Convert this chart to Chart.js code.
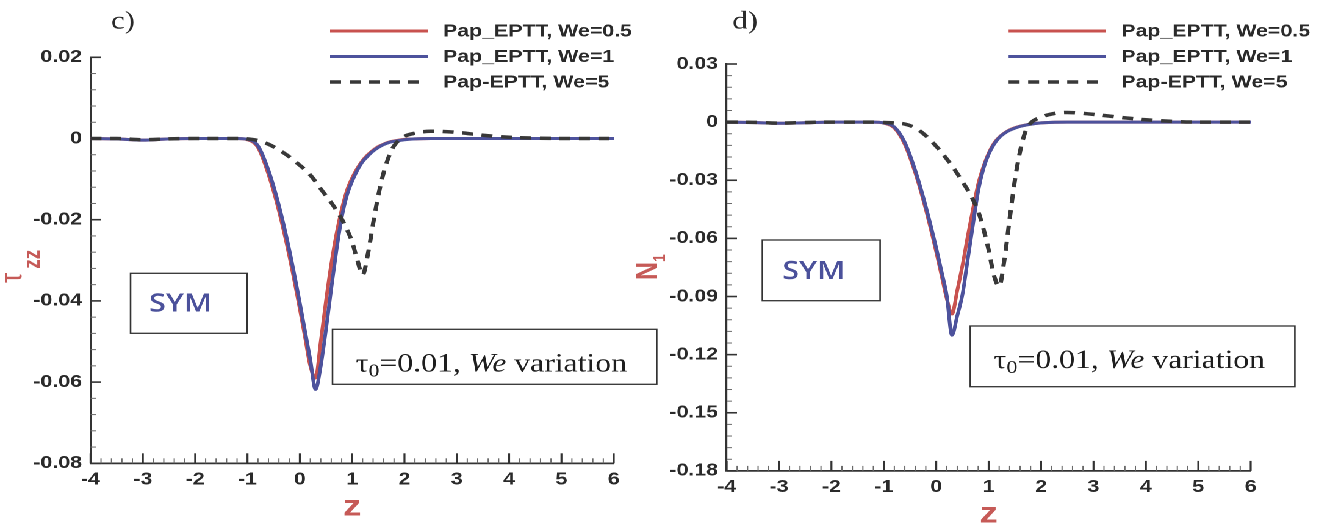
<!DOCTYPE html>
<html>
<head>
<meta charset="utf-8">
<script src="https://cdn.jsdelivr.net/npm/chart.js@4.4.1/dist/chart.umd.min.js"></script>
<style>
  html, body { margin: 0; padding: 0; background: #fff; overflow: hidden; }
  /* both panels are laid out narrow and stretched sideways */
  #wrap { position: absolute; left: 0; top: 0; width: 1081px; height: 529px; transform: scaleX(1.2202); transform-origin: 0 0; }
  #wrap canvas { position: absolute; top: 0; }
</style>
</head>
<body>
<div id="wrap">
  <canvas id="chart_c" width="541" height="529" style="left:0px"></canvas>
  <canvas id="chart_d" width="573" height="529" style="left:508px"></canvas>
</div>
<script>
// axial position
const zGrid = [-4, -3.5, -3, -2.5, -2, -1.5, -1.2, -1.0, -0.8, -0.6, -0.4, -0.2, 0, 0.1, 0.2, 0.3, 0.4, 0.5, 0.6, 0.7,
               0.8, 0.9, 1.0, 1.1, 1.2, 1.3, 1.4, 1.5, 1.6, 1.7, 1.8, 2.0, 2.2, 2.5, 3.0, 3.5, 4.0, 4.5, 5, 6];

// c) tau_zz
const tzzWe05 = [0, -0.0001, -0.0004, -0.0001, 0, 0, 0, -0.0003, -0.0022, -0.0088, -0.0178, -0.0290, -0.0420, -0.0490, -0.0560, -0.0590, -0.0500, -0.0400, -0.0310, -0.0235,
                 -0.0175, -0.0128, -0.0097, -0.0073, -0.0054, -0.0040, -0.0029, -0.0020, -0.0014, -0.0009, -0.0006, -0.0002, -0.0001, 0, 0, 0, 0, 0, 0, 0];
const tzzWe1 = [0, -0.0001, -0.0004, -0.0001, 0, 0, 0, -0.0002, -0.0018, -0.0078, -0.0165, -0.0275, -0.0405, -0.0475, -0.0545, -0.0618, -0.0560, -0.0470, -0.0370, -0.0275,
                -0.0195, -0.0140, -0.0105, -0.0078, -0.0057, -0.0043, -0.0031, -0.0022, -0.0015, -0.0010, -0.0007, -0.0003, -0.0001, 0, 0, 0, 0, 0, 0, 0];
const tzzWe5 = [0, 0, -0.0003, -0.0001, 0, 0, 0, -0.0001, -0.0005, -0.0014, -0.0028, -0.0045, -0.0066, -0.0077, -0.0090, -0.0106, -0.0124, -0.0141, -0.0158, -0.0177,
                -0.0198, -0.0224, -0.0255, -0.0300, -0.0336, -0.0285, -0.0210, -0.0140, -0.0085, -0.0045, -0.0018, 0.0005, 0.0013, 0.0018, 0.0015, 0.0008, 0.0003, 0.0001, 0, 0];

// d) N1
const n1We05 = [0, -0.0002, -0.0006, -0.0003, 0, 0, 0, -0.0005, -0.0030, -0.0115, -0.0262, -0.0450, -0.0670, -0.0790, -0.0910, -0.0990, -0.0870, -0.0740, -0.0590, -0.0450,
                -0.0320, -0.0230, -0.0160, -0.0110, -0.0078, -0.0056, -0.0040, -0.0029, -0.0021, -0.0015, -0.0010, -0.0004, -0.0001, 0, 0, 0, 0, 0, 0, 0];
const n1We1 = [0, -0.0002, -0.0006, -0.0003, 0, 0, 0, -0.0004, -0.0025, -0.0105, -0.0250, -0.0435, -0.0650, -0.0770, -0.0895, -0.1100, -0.1000, -0.0890, -0.0710, -0.0530,
               -0.0355, -0.0240, -0.0166, -0.0115, -0.0080, -0.0058, -0.0042, -0.0031, -0.0022, -0.0016, -0.0011, -0.0004, -0.0001, 0, 0, 0, 0, 0, 0, 0];
const n1We5 = [0, -0.0001, -0.0005, -0.0002, 0, 0, 0, -0.0002, -0.0004, -0.0010, -0.0030, -0.0070, -0.0125, -0.0155, -0.0190, -0.0225, -0.0265, -0.0308, -0.0350, -0.0400,
               -0.0460, -0.0550, -0.0660, -0.0790, -0.0847, -0.0710, -0.0500, -0.0300, -0.0150, -0.0050, -0.0005, 0.0025, 0.0042, 0.0050, 0.0040, 0.0025, 0.0012, 0.0004, 0, 0];

const seriesNames = ['Pap_EPTT, We=0.5', 'Pap_EPTT, We=1', 'Pap-EPTT, We=5'];

const zTicks = [-4, -3, -2, -1, 0, 1, 2, 3, 4, 5, 6];
const zLabels = ['-4', '-3', '-2', '-1', '0', '1', '2', '3', '4', '5', '6'];
const tzzTicks = [-0.08, -0.06, -0.04, -0.02, 0, 0.02];
const tzzLabels = ['-0.08', '-0.06', '-0.04', '-0.02', '0', '0.02'];
const n1Ticks = [-0.18, -0.15, -0.12, -0.09, -0.06, -0.03, 0, 0.03];
const n1Labels = ['-0.18', '-0.15', '-0.12', '-0.09', '-0.06', '-0.03', '0', '0.03'];

const RED = '#c8524f';
const BLUE = '#4d529c';
const DASH = '#383838';
const AXIS = '#333333';
const LABEL_RED = '#c65a57';
const INK = '#2a2a2a';

function seriesSets(v05, v1, v5) {
    return [
        { label: seriesNames[0], data: zGrid.map((z, i) => ({ x: z, y: v05[i] })), borderColor: RED, borderWidth: 3, order: 3 },
        { label: seriesNames[1], data: zGrid.map((z, i) => ({ x: z, y: v1[i] })), borderColor: BLUE, borderWidth: 3, order: 2 },
        { label: seriesNames[2], data: zGrid.map((z, i) => ({ x: z, y: v5[i] })), borderColor: DASH, borderWidth: 3.5, borderDash: [9, 7], order: 1 }
    ].map(d => Object.assign(d, { pointRadius: 0, fill: false, cubicInterpolationMode: 'monotone' }));
}

function minorValues(majors, parts) {
    const out = [];
    for (let i = 0; i < majors.length - 1; i++) {
        const step = (majors[i + 1] - majors[i]) / parts;
        for (let k = 1; k < parts; k++) out.push(majors[i] + k * step);
    }
    return out;
}

function seg(ctx, x1, y1, x2, y2) {
    ctx.beginPath();
    ctx.moveTo(x1, y1);
    ctx.lineTo(x2, y2);
    ctx.stroke();
}

// text made of pieces (subscripts, italics), drawn left to right from x
function pieces(ctx, x, y, parts) {
    let cx = x;
    parts.forEach(p => {
        ctx.font = p.font;
        cx += p.dx || 0;
        ctx.fillText(p.text, cx, y + (p.dy || 0));
        cx += ctx.measureText(p.text).width;
    });
}

function piecesWidth(ctx, parts) {
    let w = 0;
    parts.forEach(p => { ctx.font = p.font; w += ctx.measureText(p.text).width + (p.dx || 0); });
    return w;
}

// inward ticks, boxed notes, legend and labels
const decor = {
    id: 'decor',
    afterDraw(chart, args, o) {
        const ctx = chart.ctx;
        const a = chart.chartArea;
        const xs = chart.scales.x, ys = chart.scales.y;
        ctx.save();
        ctx.strokeStyle = AXIS;

        const xMaj = xs.ticks.map(t => t.value);
        const yMaj = ys.ticks.map(t => t.value);
        ctx.lineWidth = 1.6;
        xMaj.forEach(v => { const p = xs.getPixelForValue(v); seg(ctx, p, a.bottom, p, a.bottom - 10); });
        yMaj.forEach(v => { const p = ys.getPixelForValue(v); seg(ctx, a.left, p, a.left + 8.5, p); });
        ctx.lineWidth = 1;
        ctx.strokeStyle = '#6a6a6a';
        minorValues(xMaj, 5).forEach(v => { const p = xs.getPixelForValue(v); seg(ctx, p, a.bottom, p, a.bottom - 5); });
        minorValues(yMaj, 5).forEach(v => { const p = ys.getPixelForValue(v); seg(ctx, a.left, p, a.left + 4.5, p); });

        // panel letter
        ctx.fillStyle = INK;
        ctx.font = '25px "Liberation Serif"';
        ctx.textAlign = 'center';
        ctx.textBaseline = 'middle';
        ctx.fillText(o.letter.text, o.letter.x, o.letter.y);

        // legend
        const lg = o.legend;
        chart.data.datasets.forEach((ds, i) => {
            const y = lg.rows[i];
            ctx.strokeStyle = ds.borderColor;
            ctx.lineWidth = ds.borderWidth;
            ctx.setLineDash(ds.borderDash || []);
            seg(ctx, lg.x0, y, lg.x1, y);
            ctx.setLineDash([]);
            ctx.fillStyle = INK;
            ctx.font = 'bold 17.5px "Liberation Sans"';
            ctx.textAlign = 'left';
            ctx.fillText(ds.label, lg.tx, y + 0.5);
        });

        // boxes
        ctx.strokeStyle = AXIS;
        ctx.lineWidth = 1.3;
        const sb = o.symBox;
        ctx.strokeRect(sb.x, sb.y, sb.w, sb.h);
        ctx.fillStyle = '#4b519b';
        ctx.font = '600 25px "Open Sans"';
        ctx.textAlign = 'center';
        ctx.fillText('SYM', sb.tx, sb.ty);

        const tb = o.tauBox;
        ctx.strokeRect(tb.x, tb.y, tb.w, tb.h);
        const tauParts = [
            { text: 'τ', font: '26px "Liberation Serif"' },
            { text: '0', font: '18px "Liberation Serif"', dy: 5 },
            { text: '=0.01, ', font: '26px "Liberation Serif"' },
            { text: 'We', font: 'italic 26px "Liberation Serif"' },
            { text: ' variation', font: '26px "Liberation Serif"' }
        ];
        ctx.fillStyle = '#1e1e1e';
        ctx.textAlign = 'left';
        ctx.textBaseline = 'alphabetic';
        pieces(ctx, tb.tx - piecesWidth(ctx, tauParts) / 2, tb.ty, tauParts);

        // y axis title, rotated
        const yt = o.yTitle;
        ctx.save();
        ctx.translate(yt.x, yt.y);
        ctx.rotate(-Math.PI / 2);
        ctx.fillStyle = LABEL_RED;
        pieces(ctx, 0, 0, yt.parts);
        ctx.restore();

        ctx.restore();
    }
};

function buildPanel(id, p) {
    return new Chart(document.getElementById(id), {
        type: 'line',
        data: { datasets: seriesSets(p.v05, p.v1, p.v5) },
        plugins: [decor],
        options: {
            responsive: false,
            animation: false,
            devicePixelRatio: 2,
            layout: { padding: { top: p.top, right: p.right, left: 0, bottom: 0 } },
            plugins: {
                legend: { display: false },
                tooltip: { enabled: false },
                decor: p.decor
            },
            scales: {
                x: {
                    type: 'linear',
                    min: -4,
                    max: 6,
                    afterBuildTicks: s => { s.ticks = zTicks.map(v => ({ value: v })); },
                    afterFit: s => { s.height = p.xHeight; },
                    ticks: {
                        callback: (v, i) => zLabels[i],
                        padding: 6,
                        maxRotation: 0,
                        autoSkip: false,
                        color: INK,
                        font: { family: 'Liberation Sans', size: 17.5, weight: 'bold' }
                    },
                    grid: { display: false, drawTicks: false },
                    border: { display: true, color: AXIS, width: 1.8 },
                    title: {
                        display: true,
                        text: 'z',
                        color: LABEL_RED,
                        font: { family: 'Liberation Sans', size: 30, weight: 'bold', lineHeight: 1 },
                        padding: { top: 0, bottom: p.zPad }
                    }
                },
                y: {
                    type: 'linear',
                    min: p.yTicks[0],
                    max: p.yTicks[p.yTicks.length - 1],
                    afterBuildTicks: s => { s.ticks = p.yTicks.map(v => ({ value: v })); },
                    afterFit: s => { s.width = p.yWidth; },
                    ticks: {
                        callback: (v, i) => p.yLabels[i],
                        padding: 7,
                        autoSkip: false,
                        color: INK,
                        font: { family: 'Liberation Sans', size: 17.5, weight: 'bold' }
                    },
                    grid: { display: false, drawTicks: false },
                    border: { display: true, color: AXIS, width: 1.6 }
                }
            }
        }
    });
}

const chartC = buildPanel('chart_c', {
    v05: tzzWe05, v1: tzzWe1, v5: tzzWe5,
    yTicks: tzzTicks, yLabels: tzzLabels,
    top: 57.3, right: 38, yWidth: 74.2, xHeight: 65.7, zPad: 6.6,
    decor: {
        letter: { text: 'c)', x: 100.8, y: 22 },
        legend: { x0: 270.5, x1: 350.8, tx: 363.1, rows: [31, 56.5, 82] },
        symBox: { x: 107, y: 273.3, w: 95.5, h: 60, tx: 147.9, ty: 304.5 },
        tauBox: { x: 272.5, y: 329.3, w: 265.7, h: 55, tx: 402.7, ty: 371.7 },
        yTitle: {
            x: 17.5, y: 283,
            parts: [
                { text: 'τ', font: '26px "Liberation Sans"' },
                { text: 'zz', font: 'bold 19px "Liberation Sans"', dx: 4, dy: 15 }
            ]
        }
    }
});

const chartD = buildPanel('chart_d', {
    v05: n1We05, v1: n1We1, v5: n1We5,
    yTicks: n1Ticks, yLabels: n1Labels,
    top: 64, right: 56, yWidth: 87.5, xHeight: 58.1, zPad: 0,
    decor: {
        letter: { text: 'd)', x: 102.7, y: 22 },
        legend: { x0: 318.6, x1: 398, tx: 410.9, rows: [31, 56.5, 82] },
        symBox: { x: 116.8, y: 240, w: 96.5, h: 60.7, tx: 158.9, ty: 272 },
        tauBox: { x: 287.2, y: 326, w: 266, h: 60.7, tx: 417.6, ty: 368 },
        yTitle: {
            x: 30.5, y: 280,
            parts: [
                { text: 'N', font: 'bold 25px "Liberation Sans"' },
                { text: '1', font: 'bold 14px "Liberation Sans"', dy: 6.6 }
            ]
        }
    }
});
</script>
</body>
</html>
